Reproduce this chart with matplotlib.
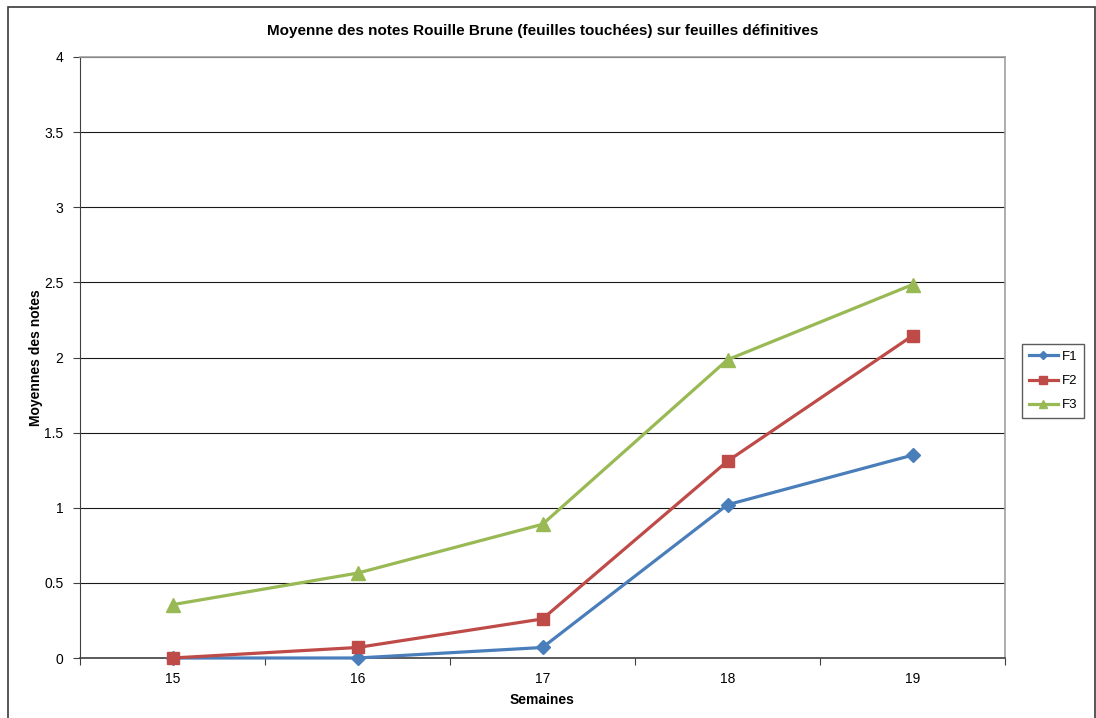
import numpy as np
import matplotlib.pyplot as plt
from matplotlib.patches import Rectangle

plt.rcParams['font.family'] = ['Liberation Sans', 'DejaVu Sans']

# data
semaines = ['15', '16', '17', '18', '19']
f1 = [0.0, 0.0, 0.07, 1.02, 1.35]
f2 = [0.0, 0.07, 0.26, 1.31, 2.145]
f3 = [0.355, 0.565, 0.89, 1.985, 2.485]

fig = plt.figure(figsize=(10.96, 7.18), dpi=100)
ax = fig.add_axes([80 / 1096, 60 / 718, 925 / 1096, 601 / 718])

# outer chart frame, bottom edge falls off the picture
fig.patches.append(Rectangle((8 / 1096, -0.01), 1087 / 1096, 711 / 718 + 0.01,
                             transform=fig.transFigure, fill=False,
                             edgecolor='#3a3a3a', linewidth=1.2, zorder=0))

x = np.arange(len(semaines)) + 0.5
ax.plot(x, f1, color='#4a7ebb', lw=2.3, marker='D', ms=7, label='F1', clip_on=False, zorder=3)
ax.plot(x, f2, color='#be4b48', lw=2.3, marker='s', ms=8.5, label='F2', clip_on=False, zorder=3)
ax.plot(x, f3, color='#98b954', lw=2.3, marker='^', ms=10, label='F3', clip_on=False, zorder=4)

ax.set_xlim(0, len(semaines))
ax.set_ylim(0, 4)
ax.set_yticks(np.arange(0, 4.01, 0.5))
ax.set_yticklabels(['0', '0.5', '1', '1.5', '2', '2.5', '3', '3.5', '4'])
ax.set_xticks(np.arange(0, len(semaines) + 1))
ax.set_xticklabels([])
ax.set_xticks(x, minor=True)
ax.set_xticklabels(semaines, minor=True)
ax.tick_params(axis='x', which='minor', length=0, pad=10, labelsize=10)
ax.tick_params(axis='x', which='major', direction='out', length=5, color='#404040')
ax.tick_params(axis='y', direction='out', length=5, color='#404040', labelsize=10, pad=7)

ax.yaxis.grid(True, color='#1a1a1a', lw=0.8)
ax.set_axisbelow(True)
for s in ['top', 'right']:
    ax.spines[s].set_color('#a0a0a0')
    ax.spines[s].set_linewidth(1.2)
ax.spines['left'].set_color('#404040')
ax.spines['bottom'].set_color('#404040')
ax.spines['bottom'].set_linewidth(1.2)

ax.set_title('Moyenne des notes Rouille Brune (feuilles touchées) sur feuilles définitives',
             fontsize=11, fontweight='bold', pad=15.5)
ax.set_xlabel('Semaines', fontsize=10, fontweight='bold', labelpad=5)
ax.set_ylabel('Moyennes des notes', fontsize=10, fontweight='bold', labelpad=1)

leg = fig.legend(loc='center left', bbox_to_anchor=(1022 / 1096, 1 - 381 / 718),
                 fontsize=9.5, frameon=True, fancybox=False, edgecolor='#333333',
                 handlelength=2.2, handletextpad=0.3, borderpad=0.5, borderaxespad=0,
                 labelspacing=0.9, markerscale=0.6)
leg.get_frame().set_linewidth(1.0)

fig.savefig('out.png', dpi=100)
